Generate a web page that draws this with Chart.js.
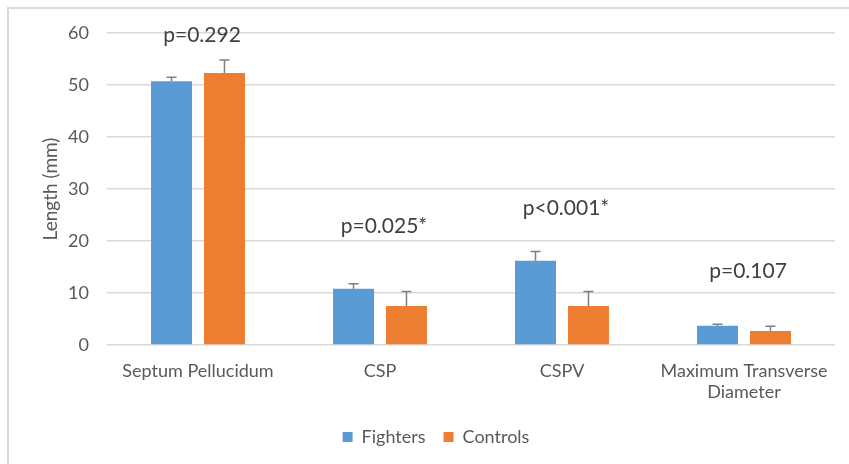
<!DOCTYPE html>
<html>
<head>
<title>Septum Pellucidum measurements</title>
<script src="https://cdn.jsdelivr.net/npm/chart.js"></script>
<style>
    body { margin: 0; background: #fff; }
    #frame {
        position: absolute;
        left: 7px; top: 7px;
        width: 842px; height: 457px;
        border-top: 2px solid #d9d9d9;
        border-left: 2px solid #d9d9d9;
    }
    #chartContainer {
        position: absolute;
        left: 0; top: 0;
        width: 849px;
        height: 464px;
    }
</style>
</head>
<body>
<div id="frame"></div>
<div id="chartContainer">
    <canvas id="myChart"></canvas>
</div>

<script>
var categories = ['Septum Pellucidum', 'CSP', 'CSPV', ['Maximum Transverse', 'Diameter']];
var fighters = [50.7, 10.8, 16.2, 3.7];
var fightersErr = [0.8, 1.0, 1.8, 0.3];
var controls = [52.3, 7.5, 7.5, 2.7];
var controlsErr = [2.5, 2.8, 2.8, 0.9];
var pValues = ['p=0.292', 'p=0.025*', 'p<0.001*', 'p=0.107'];
var pHeights = [59.6, 22.8, 26.3, 14.1];

var fontFamily = 'Lato, "Open Sans", sans-serif';
var grey = '#595959';

// upper error bars, drawn on top of each bar
var errorBars = {
    id: 'errorBars',
    afterDatasetsDraw: function(chart) {
        var ctx = chart.ctx;
        var y = chart.scales.y;
        var errs = [fightersErr, controlsErr];
        ctx.save();
        ctx.strokeStyle = '#7f7f7f';
        ctx.lineWidth = 1.5;
        chart.data.datasets.forEach(function(ds, d) {
            var meta = chart.getDatasetMeta(d);
            meta.data.forEach(function(bar, i) {
                var top = y.getPixelForValue(ds.data[i] + errs[d][i]);
                ctx.beginPath();
                ctx.moveTo(bar.x, bar.y);
                ctx.lineTo(bar.x, top);
                ctx.moveTo(bar.x - 5, top);
                ctx.lineTo(bar.x + 5, top);
                ctx.stroke();
            });
        });
        ctx.restore();
    }
};

// p-value labels above each group
var pLabels = {
    id: 'pLabels',
    afterDatasetsDraw: function(chart) {
        var ctx = chart.ctx;
        var x = chart.scales.x;
        var y = chart.scales.y;
        ctx.save();
        ctx.fillStyle = '#404040';
        ctx.font = '21px ' + fontFamily;
        ctx.textAlign = 'center';
        ctx.textBaseline = 'middle';
        pValues.forEach(function(txt, i) {
            ctx.fillText(txt, x.getPixelForValue(i) + 4, y.getPixelForValue(pHeights[i]));
        });
        ctx.restore();
    }
};

var ctx = document.getElementById('myChart').getContext('2d');

var chart = new Chart(ctx, {
    type: 'bar',
    data: {
        labels: categories,
        datasets: [{
            label: 'Fighters',
            data: fighters,
            backgroundColor: '#5b9bd5',
            borderWidth: 0
        }, {
            label: 'Controls',
            data: controls,
            backgroundColor: '#ed7d31',
            borderWidth: 0
        }]
    },
    plugins: [errorBars, pLabels],
    options: {
        responsive: true,
        maintainAspectRatio: false,
        animation: false,
        categoryPercentage: 0.582,
        barPercentage: 0.774,
        layout: {
            padding: { top: 33, right: 14, bottom: 8, left: 37 }
        },
        plugins: {
            legend: {
                position: 'bottom',
                labels: {
                    boxWidth: 10,
                    boxHeight: 10,
                    padding: 18,
                    color: grey,
                    font: { family: fontFamily, size: 18 }
                }
            },
            tooltip: { enabled: false }
        },
        scales: {
            x: {
                grid: { display: false },
                border: { display: false },
                ticks: {
                    color: grey,
                    font: { family: fontFamily, size: 18 },
                    maxRotation: 0,
                    padding: 7
                },
                afterFit: function(scale) { scale.height = 65; }
            },
            y: {
                min: 0,
                max: 60,
                ticks: {
                    stepSize: 10,
                    color: grey,
                    font: { family: fontFamily, size: 18 },
                    padding: 18
                },
                grid: { color: '#d9d9d9', lineWidth: 1.5, drawTicks: false },
                border: { display: false },
                title: {
                    display: true,
                    text: 'Length (mm)',
                    color: grey,
                    font: { family: fontFamily, size: 19 },
                    padding: { top: 2, bottom: 0 }
                },
                afterFit: function(scale) { scale.width = 70; }
            }
        }
    }
});
</script>
</body>
</html>
